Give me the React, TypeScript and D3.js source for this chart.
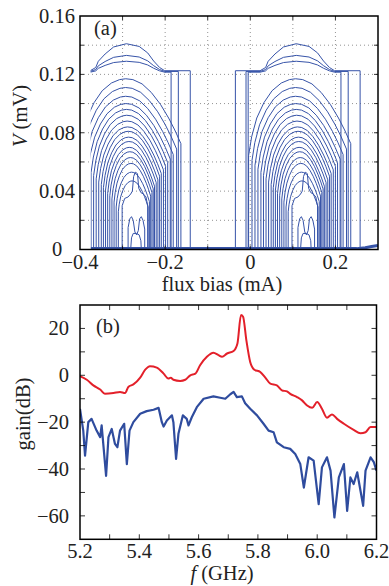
import React from "react";
import * as d3 from "d3";

// ---------- panel (a): V vs flux bias ----------
const fluxTicks = [-0.4, -0.2, 0, 0.2];
const fluxTickLabels = ["\u22120.4", "\u22120.2", "0", "0.2"];
const fluxGrid = [-0.3, -0.2, -0.1, 0, 0.1, 0.2];
const voltTicks = [0, 0.04, 0.08, 0.12, 0.16];
const voltTickLabels = ["0", "0.04", "0.08", "0.12", "0.16"];
const voltGrid = [0.02, 0.04, 0.06, 0.08, 0.1, 0.12, 0.14];

// flux range actually swept
const fluxStart = -0.375;
const fluxEnd = 0.3;

// the pattern repeats with the flux period; centres of the two lobes (mA)
const lobeCenters = [-0.291, 0.108];

// nested arches (edges relative to the lobe centre, mA; peak in mV)
const archPeak = [0.117, 0.111, 0.105, 0.1, 0.096, 0.092, 0.088, 0.084, 0.081, 0.077, 0.074, 0.07, 0.067, 0.063, 0.059, 0.053, 0.047];
const archLeft = [-0.112, -0.104, -0.097, -0.09, -0.083, -0.077, -0.071, -0.065, -0.059, -0.054, -0.049, -0.044, -0.039, -0.034, -0.029, -0.024, -0.019];
const archRight = [0.128, 0.118, 0.11, 0.103, 0.097, 0.092, 0.087, 0.082, 0.078, 0.074, 0.07, 0.066, 0.063, 0.06, 0.057, 0.054, 0.051];

// shared arch profile: position across the arch (0..1) and fraction of peak
const archProfileU = [0, 0, 0.03, 0.08, 0.15, 0.23, 0.32, 0.4, 0.46, 0.53, 0.62, 0.71, 0.8, 0.88, 0.94, 1, 1];
const archProfileV = [0, 0.55, 0.66, 0.77, 0.86, 0.93, 0.975, 0.995, 1, 0.995, 0.97, 0.92, 0.85, 0.77, 0.7, 0.62, 0];

// switched curves sitting on the 0.122 mV plateau, each with a bump on top
const highLeft = [-0.143, -0.118, -0.113];
const highRight = [0.15, 0.122, 0.105];
const highLevel = [0.1225, 0.122, 0.1215];
const highBump = [0.141, 0.133, 0.129];
const bumpRel = [-0.085, -0.072, -0.066, -0.05, -0.03, 0, 0.03, 0.05, 0.064, 0.078, 0.09];
const bumpFrac = [0, 0.12, 0.35, 0.62, 0.88, 1, 0.9, 0.66, 0.36, 0.12, 0];

// low-bias curves near the bottom of each lobe
const plateauRel = [-0.01, -0.01, -0.004, 0.004, 0.01, 0.014, 0.017, 0.021, 0.026, 0.029, 0.034, 0.04, 0.046, 0.05, 0.05];
const plateauV = [0, 0.03, 0.035, 0.036, 0.038, 0.04, 0.05, 0.053, 0.052, 0.042, 0.039, 0.038, 0.036, 0.03, 0];
const mShapeRel = [0.004, 0.004, 0.008, 0.012, 0.016, 0.02, 0.024, 0.028, 0.031, 0.035, 0.039, 0.043, 0.043];
const mShapeV = [0, 0.015, 0.021, 0.0225, 0.02, 0.012, 0.01, 0.013, 0.021, 0.0225, 0.02, 0.014, 0];
const smallRel = [0.01, 0.012, 0.016, 0.024, 0.03, 0.034, 0.035];
const smallV = [0, 0.008, 0.011, 0.011, 0.01, 0.006, 0];

// superconducting branch along V = 0
const baselineFlux = [-0.375, 0.25, 0.27, 0.285, 0.3];
const baselineV = [0.0006, 0.0006, 0.0012, 0.002, 0.0028];

// ---------- panel (b): gain vs frequency ----------
const redFreq = [5.2, 5.223, 5.245, 5.268, 5.284, 5.313, 5.335, 5.352, 5.363, 5.38, 5.403, 5.42, 5.436, 5.459, 5.482, 5.498, 5.506, 5.515, 5.538, 5.555, 5.572, 5.589, 5.605, 5.628, 5.65, 5.667, 5.679, 5.696, 5.718, 5.731, 5.743, 5.75, 5.761, 5.774, 5.788, 5.808, 5.825, 5.842, 5.864, 5.881, 5.898, 5.909, 5.932, 5.949, 5.966, 5.983, 6.0, 6.016, 6.033, 6.05, 6.067, 6.09, 6.123, 6.146, 6.163, 6.18, 6.2];
const redGain = [-0.4, -1.9, -4.3, -6.1, -7.9, -7.6, -7.1, -7.6, -5.0, -3.9, -1.0, 2.4, 3.9, 3.3, 0.7, -1.4, -1.0, -1.9, -2.4, -1.9, 0, 0.7, 4.3, 7.9, 9.6, 8.6, 7.9, 9.3, 10.4, 13.6, 25.7, 25.0, 15.0, 5.7, 2.4, 1.4, -1.0, -3.6, -4.3, -6.4, -6.9, -7.9, -9.3, -10.7, -12.9, -13.9, -11.4, -14.3, -18.1, -16.7, -18.6, -20.7, -23.3, -24.7, -24.3, -22.1, -22.1];

const blueFreq = [5.2, 5.211, 5.217, 5.228, 5.239, 5.256, 5.268, 5.273, 5.288, 5.296, 5.307, 5.318, 5.326, 5.335, 5.349, 5.358, 5.367, 5.38, 5.403, 5.425, 5.448, 5.465, 5.476, 5.482, 5.493, 5.51, 5.515, 5.524, 5.532, 5.547, 5.56, 5.566, 5.577, 5.594, 5.617, 5.65, 5.673, 5.69, 5.707, 5.718, 5.729, 5.746, 5.757, 5.774, 5.797, 5.819, 5.836, 5.853, 5.864, 5.887, 5.909, 5.926, 5.943, 5.955, 5.971, 5.988, 6.005, 6.016, 6.033, 6.045, 6.058, 6.073, 6.09, 6.101, 6.112, 6.123, 6.135, 6.146, 6.155, 6.163, 6.18, 6.191, 6.2];
const blueGain = [-14.3, -23.6, -34.3, -20.0, -18.6, -23.6, -26.4, -21.4, -42.9, -26.4, -22.9, -29.3, -30.7, -23.6, -20.7, -37.9, -23.6, -20.0, -16.4, -15.3, -14.7, -13.9, -20.0, -21.9, -19.3, -17.1, -20.0, -35.7, -25.0, -17.1, -18.6, -21.4, -17.9, -13.6, -10.0, -9.0, -9.6, -10.0, -8.1, -7.1, -9.3, -9.0, -11.9, -14.3, -17.1, -20.7, -23.6, -24.3, -28.6, -30.7, -31.4, -33.6, -37.9, -47.9, -35.0, -36.4, -55.0, -39.3, -35.0, -40.7, -60.7, -43.6, -37.9, -57.9, -43.6, -46.4, -41.4, -49.3, -55.7, -40.7, -35.0, -37.1, -40.7];

const freqTicks = [5.2, 5.4, 5.6, 5.8, 6.0, 6.2];
const freqTickLabels = ["5.2", "5.4", "5.6", "5.8", "6.0", "6.2"];
const freqMinor = [5.3, 5.4, 5.5, 5.6, 5.7, 5.8, 5.9, 6.0, 6.1];
const gainTicks = [20, 0, -20, -40, -60];
const gainTickLabels = ["20", "0", "\u221220", "\u221240", "\u221260"];
const gainMinor = [20, 10, 0, -10, -20, -30, -40, -50, -60];

const FONT = "'Liberation Serif', 'DejaVu Serif', serif";
const FS = 20.5;
const TEXT = "#222";
const LINE_A = "#3653a8";
const RED = "#e3202a";
const BLUE = "#2f4c9e";

type Pt = [number, number];

export default function App() {
  const xA = d3.scaleLinear().domain([-0.4, 0.3]).range([80, 378]);
  const yA = d3.scaleLinear().domain([0, 0.16]).range([249.5, 16]);
  const xB = d3.scaleLinear().domain([5.2, 6.2]).range([80, 376.5]);
  const yB = d3.scaleLinear().domain([-70, 30]).range([539.3, 305]);

  const lineA = d3
    .line<Pt>()
    .x((d) => xA(d[0]))
    .y((d) => yA(d[1]));
  const lineB = d3
    .line<Pt>()
    .x((d) => xB(d[0]))
    .y((d) => yB(d[1]));
  const lineBSmooth = d3
    .line<Pt>()
    .x((d) => xB(d[0]))
    .y((d) => yB(d[1]))
    .curve(d3.curveMonotoneX);

  // build the families of curves for both lobes
  const curvesA: Pt[][] = [];
  lobeCenters.forEach((c) => {
    highLeft.forEach((L, i) => {
      const lvl = highLevel[i];
      const pts: Pt[] = [
        [c + L, 0],
        [c + L, lvl],
      ];
      bumpRel.forEach((r, j) => pts.push([c + r, lvl + bumpFrac[j] * (highBump[i] - lvl)]));
      pts.push([c + highRight[i], lvl], [c + highRight[i], 0]);
      curvesA.push(pts);
    });
    archPeak.forEach((p, i) => {
      const L = archLeft[i];
      const R = archRight[i];
      curvesA.push(archProfileU.map((u, j) => [c + L + u * (R - L), p * archProfileV[j]] as Pt));
    });
    curvesA.push(plateauRel.map((r, j) => [c + r, plateauV[j]] as Pt));
    curvesA.push(mShapeRel.map((r, j) => [c + r, mShapeV[j]] as Pt));
    curvesA.push(smallRel.map((r, j) => [c + r, smallV[j]] as Pt));
  });
  const baseline: Pt[] = baselineFlux.map((f, i) => [f, baselineV[i]]);

  const red: Pt[] = redFreq.map((f, i) => [f, redGain[i]]);
  const blue: Pt[] = blueFreq.map((f, i) => [f, blueGain[i]]);

  const [ax0, ax1] = xA.range();
  const [ay0, ay1] = [yA(0.16), yA(0)];
  const [bx0, bx1] = xB.range();
  const [by0, by1] = [yB(30), yB(-70)];

  return (
    <svg
      width={389}
      height={586}
      viewBox="0 0 389 586"
      style={{ position: "absolute", left: 0, top: 0, background: "#fff" }}
      fontFamily={FONT}
    >
      <defs>
        <clipPath id="clipA">
          <rect x={xA(fluxStart)} y={ay0} width={xA(fluxEnd) - xA(fluxStart)} height={ay1 - ay0 + 1.5} />
        </clipPath>
        <clipPath id="clipB">
          <rect x={bx0} y={by0} width={bx1 - bx0} height={by1 - by0} />
        </clipPath>
      </defs>

      {/* ---------- panel (a) ---------- */}
      <g>
        {fluxGrid.map((f) => (
          <line key={"gx" + f} x1={xA(f)} x2={xA(f)} y1={ay0} y2={ay1} stroke="#777" strokeWidth={0.8} strokeDasharray="1,3" />
        ))}
        {voltGrid.map((v) => (
          <line key={"gy" + v} x1={ax0} x2={ax1} y1={yA(v)} y2={yA(v)} stroke="#777" strokeWidth={0.8} strokeDasharray="1,3" />
        ))}
        <g clipPath="url(#clipA)" fill="none" stroke={LINE_A} strokeWidth={1} strokeLinejoin="round">
          {curvesA.map((pts, i) => (
            <path key={i} d={lineA(pts) ?? ""} />
          ))}
          <path d={lineA(baseline) ?? ""} strokeWidth={3} />
        </g>
        {/* inward ticks */}
        {fluxGrid.map((f) => (
          <g key={"tx" + f} stroke="#000" strokeWidth={0.8}>
            <line x1={xA(f)} x2={xA(f)} y1={ay1} y2={ay1 - 4} />
            <line x1={xA(f)} x2={xA(f)} y1={ay0} y2={ay0 + 4} />
          </g>
        ))}
        {voltGrid.map((v) => (
          <g key={"ty" + v} stroke="#000" strokeWidth={0.8}>
            <line x1={ax0} x2={ax0 + 4} y1={yA(v)} y2={yA(v)} />
            <line x1={ax1} x2={ax1 - 4} y1={yA(v)} y2={yA(v)} />
          </g>
        ))}
        <rect x={ax0} y={ay0} width={ax1 - ax0} height={ay1 - ay0} fill="none" stroke="#000" strokeWidth={1.5} />
        {fluxTicks.map((f, i) => (
          <text key={"lx" + f} x={xA(f)} y={269} textAnchor="middle" fontSize={FS} fill={TEXT}>
            {fluxTickLabels[i]}
          </text>
        ))}
        {voltTicks.map((v, i) => (
          <text key={"ly" + v} x={57} y={yA(v)} dy="0.34em" textAnchor="middle" fontSize={FS} fill={TEXT}>
            {voltTickLabels[i]}
          </text>
        ))}
        <text x={222} y={291} textAnchor="middle" fontSize={FS} fill={TEXT}>
          flux bias (mA)
        </text>
        <text transform="translate(27,116) rotate(-90)" textAnchor="middle" fontSize={FS} fill={TEXT}>
          <tspan fontStyle="italic">V</tspan> (mV)
        </text>
        <text x={94} y={35} fontSize={FS} fill={TEXT}>
          (a)
        </text>
      </g>

      {/* ---------- panel (b) ---------- */}
      <g>
        <g clipPath="url(#clipB)" fill="none" strokeLinejoin="round">
          <path d={lineBSmooth(red) ?? ""} stroke={RED} strokeWidth={2} />
          <path d={lineB(blue) ?? ""} stroke={BLUE} strokeWidth={2.2} />
        </g>
        {freqMinor.map((f) => (
          <g key={"bx" + f} stroke="#000" strokeWidth={0.8}>
            <line x1={xB(f)} x2={xB(f)} y1={by1} y2={by1 - 5} />
            <line x1={xB(f)} x2={xB(f)} y1={by0} y2={by0 + 5} />
          </g>
        ))}
        {gainMinor.map((g) => (
          <g key={"by" + g} stroke="#000" strokeWidth={0.8}>
            <line x1={bx0} x2={bx0 + 5} y1={yB(g)} y2={yB(g)} />
            <line x1={bx1} x2={bx1 - 5} y1={yB(g)} y2={yB(g)} />
          </g>
        ))}
        <rect x={bx0} y={by0} width={bx1 - bx0} height={by1 - by0} fill="none" stroke="#000" strokeWidth={1.5} />
        {freqTicks.map((f, i) => (
          <text key={"fl" + f} x={xB(f)} y={557.5} textAnchor="middle" fontSize={FS} fill={TEXT}>
            {freqTickLabels[i]}
          </text>
        ))}
        {gainTicks.map((g, i) => (
          <text key={"gl" + g} x={69} y={yB(g)} dy="0.34em" textAnchor="end" fontSize={FS} fill={TEXT}>
            {gainTickLabels[i]}
          </text>
        ))}
        <text x={222} y={579.5} textAnchor="middle" fontSize={FS} fill={TEXT}>
          <tspan fontStyle="italic">f</tspan> (GHz)
        </text>
        <text transform="translate(30,414) rotate(-90)" textAnchor="middle" fontSize={FS} fill={TEXT}>
          gain(dB)
        </text>
        <text x={96} y={333} fontSize={FS} fill={TEXT}>
          (b)
        </text>
      </g>
    </svg>
  );
}
